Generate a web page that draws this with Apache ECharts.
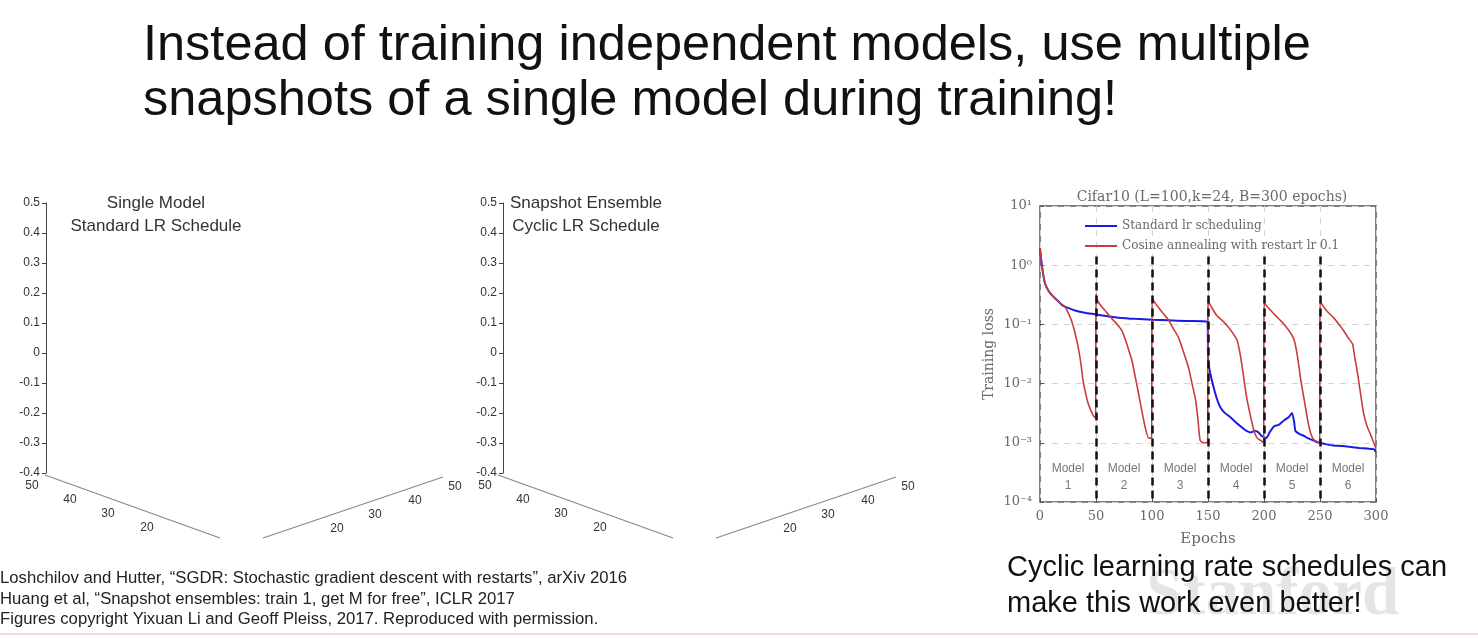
<!DOCTYPE html>
<html>
<head>
<meta charset="utf-8">
<title>Snapshot ensembles</title>
<script src="https://cdn.jsdelivr.net/npm/echarts@6.0.0/dist/echarts.min.js"></script>
<style>
  html, body { margin: 0; padding: 0; background: #fff; }
  #main { width: 1478px; height: 638px; }
</style>
</head>
<body>
<div id="main"></div>
<script>
// 数据：训练损失（对数坐标）
var redEpochs = [0, 2, 4.5, 8, 13, 18, 22, 25, 28, 31, 34, 36.5, 38.5, 41, 43, 45.5, 48, 49.7,
  50, 51, 55, 60, 64, 69, 73, 77, 80, 82, 85, 88, 91, 94, 97, 99.7,
  100, 101, 107, 114.6, 119, 123.5, 128, 132.5, 136, 139, 141, 143, 146, 149.7,
  150, 151, 155, 158, 163, 167, 172, 176, 178.5, 180.5, 183, 185, 188, 191, 194, 197, 199.7,
  200, 201, 205, 209, 214, 218, 223, 227, 230, 233, 236, 239, 242, 245, 249.7,
  250, 251, 256, 262, 267, 271, 275, 279, 281, 283.5, 286, 289, 292, 295, 298, 300];
var redLoss = [1.95, 0.9, 0.49, 0.36, 0.28, 0.23, 0.2, 0.16, 0.117, 0.075, 0.042, 0.022, 0.011, 0.0065, 0.0046, 0.0035, 0.0028, 0.0026,
  0.33, 0.26, 0.2, 0.155, 0.126, 0.1, 0.079, 0.05, 0.033, 0.025, 0.013, 0.0068, 0.0034, 0.0018, 0.0012, 0.0012,
  0.3, 0.26, 0.18, 0.12, 0.085, 0.061, 0.035, 0.019, 0.0095, 0.0052, 0.0025, 0.0011, 0.001, 0.001,
  0.26, 0.23, 0.17, 0.14, 0.115, 0.096, 0.072, 0.054, 0.033, 0.019, 0.009, 0.0052, 0.0028, 0.0016, 0.0012, 0.0011, 0.001,
  0.25, 0.22, 0.18, 0.15, 0.12, 0.1, 0.075, 0.054, 0.028, 0.011, 0.0052, 0.0024, 0.0014, 0.0011, 0.001,
  0.25, 0.23, 0.17, 0.13, 0.1, 0.079, 0.06, 0.047, 0.028, 0.015, 0.0072, 0.0031, 0.0019, 0.0014, 0.001, 0.0008];

var blueEpochs = [0, 2, 4.5, 8, 13, 16, 20, 25, 32, 40, 49, 60, 70, 85, 100, 115, 130, 149.5,
  150, 150.5, 152, 155, 158, 161, 165, 170, 175, 179, 184, 188, 192, 195, 198, 202, 205, 209, 213, 218, 222, 225,
  227, 228, 232, 236, 239, 244, 248, 255, 262, 270, 277.5, 285, 292, 298, 300];
var blueLoss = [1.95, 0.9, 0.49, 0.36, 0.28, 0.25, 0.21, 0.19, 0.17, 0.157, 0.148, 0.137, 0.13, 0.124, 0.12, 0.117, 0.114, 0.111,
  0.03, 0.022, 0.015, 0.0087, 0.0055, 0.004, 0.0032, 0.0027, 0.0022, 0.0019, 0.0016, 0.0015, 0.0016, 0.0015, 0.0013, 0.0012, 0.0015, 0.0019, 0.002, 0.0024, 0.0027, 0.0032,
  0.0022, 0.0016, 0.0014, 0.0013, 0.0012, 0.0011, 0.00102, 0.00095, 0.0009, 0.00088, 0.00085, 0.00082, 0.0008, 0.00078, 0.0007];

var restartEpochs = [50, 100, 150, 200, 250];
var modelCenters = [25, 75, 125, 175, 225, 275];
var modelNames = ['1', '2', '3', '4', '5', '6'];
var yTickLabels = {'10': '10¹', '1': '10⁰', '0.1': '10⁻¹', '0.01': '10⁻²', '0.001': '10⁻³', '0.0001': '10⁻⁴'};
var floorTicks = ['50', '40', '30', '20'];   // 曲面图底面刻度

function zip(xs, ys) {
    return xs.map(function (x, i) { return [x, ys[i]]; });
}

var serif = 'DejaVu Serif';
var sans = 'Liberation Sans';
var grayText = '#6a6a6a';

function txt(x, y, text, font, fill, align) {
    return {
        type: 'text', x: x, y: y, silent: true,
        style: { text: text, font: font, fill: fill || '#111', align: align || 'left', verticalAlign: 'middle' }
    };
}
function seg(x1, y1, x2, y2) {
    return {
        type: 'line', silent: true,
        shape: { x1: x1, y1: y1, x2: x2, y2: y2 },
        style: { stroke: '#888', lineWidth: 1.2 }
    };
}

// 两个曲面图的底面坐标轴（只画轴和刻度文字）
function floorAxes(dx) {
    var out = [
        seg(45 + dx, 475, 220 + dx, 538),
        seg(263 + dx, 538, 443 + dx, 477)
    ];
    var leftPos = [[32, 486], [70, 500], [108, 514], [147, 528]];
    var rightPos = [[455, 487], [415, 501], [375, 515], [337, 529]];
    floorTicks.forEach(function (t, i) {
        out.push(txt(leftPos[i][0] + dx, leftPos[i][1], t, '12px "Liberation Sans"', '#333', 'center'));
        out.push(txt(rightPos[i][0] + dx, rightPos[i][1], t, '12px "Liberation Sans"', '#333', 'center'));
    });
    return out;
}

var graphics = [
    txt(143, 46, 'Instead of training independent models, use multiple', '50.5px "Liberation Sans"'),
    txt(143, 101, 'snapshots of a single model during training!', '50.5px "Liberation Sans"'),

    txt(156, 203, 'Single Model', '17px "Liberation Sans"', '#333', 'center'),
    txt(156, 226, 'Standard LR Schedule', '17px "Liberation Sans"', '#333', 'center'),
    txt(586, 203, 'Snapshot Ensemble', '17px "Liberation Sans"', '#333', 'center'),
    txt(586, 226, 'Cyclic LR Schedule', '17px "Liberation Sans"', '#333', 'center'),

    txt(0, 578, 'Loshchilov and Hutter, \u201cSGDR: Stochastic gradient descent with restarts\u201d, arXiv 2016', '16.7px "Liberation Sans"', '#222'),
    txt(0, 599, 'Huang et al, \u201cSnapshot ensembles: train 1, get M for free\u201d, ICLR 2017', '16.7px "Liberation Sans"', '#222'),
    txt(0, 619, 'Figures copyright Yixuan Li and Geoff Pleiss, 2017. Reproduced with permission.', '16.7px "Liberation Sans"', '#222'),

    txt(1146, 597, 'Stanford', 'bold 67px "Liberation Serif"', 'rgba(150,150,150,0.25)'),
    txt(1007, 568, 'Cyclic learning rate schedules can', '29px "Liberation Sans"', '#111'),
    txt(1007, 604, 'make this work even better!', '29px "Liberation Sans"', '#111'),

    { type: 'rect', left: 0, top: 633, silent: true, shape: { width: 1478, height: 2 }, style: { fill: '#f4d6d6' } }
].concat(floorAxes(0), floorAxes(453));

var zAxis = function (idx) {
    return {
        gridIndex: idx, type: 'value', min: -0.4, max: 0.5, interval: 0.1,
        axisLine: { show: true, lineStyle: { color: '#444' } },
        axisTick: { show: true, length: 4, lineStyle: { color: '#444' } },
        axisLabel: {
            fontFamily: sans, fontSize: 12, color: '#333', margin: 6,
            formatter: function (v) { return Math.abs(v) < 1e-9 ? '0' : v.toFixed(1); }
        },
        splitLine: { show: false }
    };
};

var myChart = echarts.init(document.getElementById('main'));
myChart.setOption({
    animation: false,
    backgroundColor: '#fff',
    title: {
        text: 'Cifar10 (L=100,k=24, B=300 epochs)',
        left: 1207, top: 185, textAlign: 'center',
        textStyle: { fontFamily: serif, fontSize: 14, fontWeight: 'normal', color: grayText }
    },
    legend: {
        orient: 'vertical',
        left: 1080, top: 215,
        itemWidth: 32, itemHeight: 10, itemGap: 8,
        icon: 'path://M0,4 L32,4 L32,6 L0,6 Z',
        textStyle: { fontFamily: serif, fontSize: 12, color: grayText },
        data: ['Standard lr scheduling', 'Cosine annealing with restart lr 0.1']
    },
    grid: [
        { left: 1040, top: 206, width: 336, height: 296, show: true, borderColor: '#555', borderWidth: 1.5 },
        { left: 46, top: 203, width: 1, height: 270 },   // 左侧曲面图 z 轴
        { left: 503, top: 203, width: 1, height: 270 }
    ],
    xAxis: [
        {
            gridIndex: 0, type: 'value', min: 0, max: 300, interval: 50,
            name: 'Epochs', nameLocation: 'middle', nameGap: 30,
            nameTextStyle: { fontFamily: serif, fontSize: 15, color: grayText },
            axisLine: { show: false },
            axisTick: { show: true, inside: true, length: 4, lineStyle: { color: '#555' } },
            axisLabel: { fontFamily: serif, fontSize: 13, color: grayText, margin: 8 },
            splitLine: { show: true, lineStyle: { type: [6, 6], color: '#d4d4d4' } }
        },
        { gridIndex: 1, type: 'value', show: false },
        { gridIndex: 2, type: 'value', show: false }
    ],
    yAxis: [
        {
            gridIndex: 0, type: 'log', logBase: 10, min: 0.0001, max: 10,
            name: 'Training loss', nameLocation: 'middle', nameGap: 44, nameRotate: 90,
            nameTextStyle: { fontFamily: serif, fontSize: 14, color: grayText },
            axisLine: { show: false },
            axisTick: { show: true, inside: true, length: 4, lineStyle: { color: '#555' } },
            axisLabel: {
                fontFamily: serif, fontSize: 13, color: grayText, margin: 8,
                formatter: function (v) { return yTickLabels[String(+v.toPrecision(3))] || ''; }
            },
            splitLine: { show: true, lineStyle: { type: [6, 6], color: '#d4d4d4' } }
        },
        zAxis(1),
        zAxis(2)
    ],
    series: [
        {
            name: 'Standard lr scheduling',
            type: 'line', xAxisIndex: 0, yAxisIndex: 0,
            showSymbol: false, smooth: 0.2, z: 3,
            lineStyle: { color: '#1c1ce0', width: 2 },
            itemStyle: { color: '#1c1ce0' },
            data: zip(blueEpochs, blueLoss)
        },
        {
            name: 'Cosine annealing with restart lr 0.1',
            type: 'line', xAxisIndex: 0, yAxisIndex: 0,
            showSymbol: false, smooth: 0.2, z: 4,
            lineStyle: { color: '#cc3b3b', width: 1.6 },
            itemStyle: { color: '#cc3b3b' },
            data: zip(redEpochs, redLoss),
            markLine: {   // 重启处的黑色虚线
                symbol: 'none', silent: true, z: 5,
                lineStyle: { color: '#111', width: 2.5, type: [8, 5] },
                label: { show: false },
                data: restartEpochs.map(function (e) {
                    return [{ coord: [e, 1.4] }, { coord: [e, 0.0001] }];
                })
            }
        },
        {
            name: 'models',
            type: 'scatter', xAxisIndex: 0, yAxisIndex: 0,
            symbolSize: 0, silent: true,
            label: {
                show: true, position: 'inside',
                fontFamily: sans, fontSize: 12, color: '#555', lineHeight: 17,
                formatter: function (p) { return 'Model\n' + modelNames[p.dataIndex]; }
            },
            data: modelCenters.map(function (c) { return [c, 0.00026]; })
        }
    ],
    graphic: graphics
});
</script>
</body>
</html>
